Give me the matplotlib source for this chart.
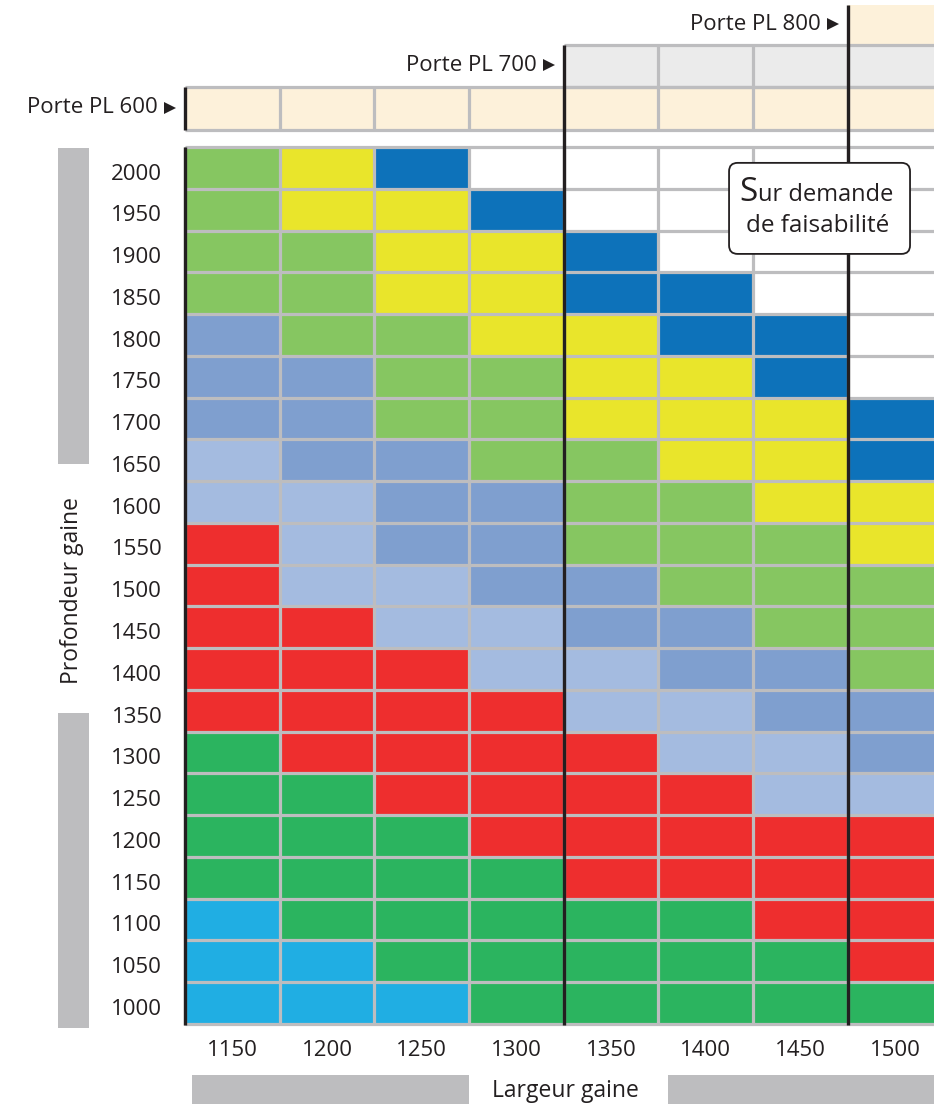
import numpy as np
import matplotlib
matplotlib.use("Agg")
import matplotlib.pyplot as plt
from matplotlib.colors import ListedColormap
from matplotlib.patches import Rectangle, FancyBboxPatch

plt.rcParams["font.family"] = ["Open Sans", "DejaVu Sans"]

# données
largeurs = [1150, 1200, 1250, 1300, 1350, 1400, 1450, 1500]
profondeurs = [2000, 1950, 1900, 1850, 1800, 1750, 1700, 1650, 1600, 1550, 1500,
               1450, 1400, 1350, 1300, 1250, 1200, 1150, 1100, 1050, 1000]
# une lettre par case, ligne du haut (2000) en premier
grille = [
    "GYBWWWWW",
    "GYYBWWWW",
    "GGYYBWWW",
    "GGYYBBWW",
    "MGGYYBBW",
    "MMGGYYBW",
    "MMGGYYYB",
    "LMMGGYYB",
    "LLMMGGYY",
    "RLMMGGGY",
    "RLLMMGGG",
    "RRLLMMGG",
    "RRRLLMMG",
    "RRRRLLMM",
    "DRRRRLLM",
    "DDRRRRLL",
    "DDDRRRRR",
    "DDDDRRRR",
    "CDDDDDRR",
    "CCDDDDDR",
    "CCCDDDDD",
]
codes = ["W", "G", "Y", "B", "M", "L", "R", "D", "C"]
teintes = ["#ffffff", "#86c661", "#e9e52b", "#0d72ba", "#7f9fcf",
           "#a4bbe0", "#ee2e2e", "#2bb45f", "#20aee3"]
portes = ["Porte PL 600", "Porte PL 700", "Porte PL 800"]
portes_debut = [0, 4, 7]
portes_teinte = ["#fdf1da", "#ebebeb", "#fdf1da"]

GRIS = "#bdbdbf"
NOIR = "#231f20"

fig = plt.figure(figsize=(9.34, 11.04), dpi=100)
ax = fig.add_axes([0, 0, 1, 1])
ax.set_xlim(-1.953, 7.909)
ax.set_ylim(-1.916, 24.52)
ax.axis("off")

nc, nr = len(largeurs), len(profondeurs)
idx = np.array([[codes.index(c) for c in ligne] for ligne in grille[::-1]])
ax.pcolormesh(np.arange(nc + 1), np.arange(nr + 1), idx,
              cmap=ListedColormap(teintes), vmin=-0.5, vmax=len(codes) - 0.5)

for i in range(nc + 1):
    ax.vlines(i, -0.03, nr, color=GRIS, lw=2.3, zorder=2)
for j in range(nr + 1):
    ax.hlines(j, 0, nc, color=GRIS, lw=2.3, zorder=2)

# bandeaux des portes
haut_ligne = [(21.41, 22.43), (22.43, 23.44), (23.44, 24.40)]
for k, (nom, d, t) in enumerate(zip(portes, portes_debut, portes_teinte)):
    y0, y1 = haut_ligne[k]
    ax.add_patch(Rectangle((d, y0), nc - d, y1 - y0, facecolor=t, edgecolor="none", zorder=1))
    if k < 2:
        ax.hlines([y0, y1], d, nc, color=GRIS, lw=2.3, zorder=2)
    for i in range(d + 1, nc + 1):
        ax.vlines(i, y0, y1, color=GRIS, lw=2.3, zorder=2)
    ym = (y0 + y1) / 2
    ax.text(d - 0.29, ym + 0.02, nom, ha="right", va="center", fontsize=16, color=NOIR)
    ax.plot(d - 0.16, ym + 0.02, marker=">", ms=8, color=NOIR, mew=0, zorder=4)

# traits noirs
ax.vlines(0, -0.03, nr, color=NOIR, lw=2.4, zorder=3)
ax.vlines(0, 21.41, 22.43, color=NOIR, lw=2.4, zorder=3)
ax.vlines(4, -0.03, 23.44, color=NOIR, lw=2.4, zorder=3)
ax.vlines(7, -0.03, 24.40, color=NOIR, lw=2.4, zorder=3)

# étiquettes
for j, p in enumerate(profondeurs):
    ax.text(-0.24, nr - j - 0.5 - 0.15, str(p), ha="right", va="center",
            fontsize=16, color=NOIR)
for i, l in enumerate(largeurs):
    ax.text(i + 0.5, -0.64, str(l), ha="center", va="center", fontsize=16, color=NOIR)

# barres grises et titres d'axes
ax.add_patch(Rectangle((-1.341, 13.41), 0.327, 7.57, facecolor=GRIS, edgecolor="none"))
ax.add_patch(Rectangle((-1.341, -0.10), 0.327, 7.55, facecolor=GRIS, edgecolor="none"))
ax.add_patch(Rectangle((0.074, -1.92), 2.93, 0.70, facecolor=GRIS, edgecolor="none"))
ax.add_patch(Rectangle((5.10, -1.92), 2.85, 0.70, facecolor=GRIS, edgecolor="none"))
ax.text(-1.19, 10.39, "Profondeur gaine", rotation=90, ha="center", va="center",
        fontsize=16.5, color=NOIR)
ax.text(4.02, -1.6, "Largeur gaine", ha="center", va="center", fontsize=16.5, color=NOIR)

# encadré
ax.add_patch(FancyBboxPatch((5.745, 18.44), 1.911, 2.18,
                            boxstyle="round,pad=0,rounding_size=0.09",
                            mutation_aspect=94.7 / 41.76,
                            facecolor="white", edgecolor=NOIR, lw=1.3, zorder=5))
ax.text(6.05, 19.71, "S", ha="right", va="baseline", fontsize=24, color=NOIR, zorder=6)
ax.text(6.05, 19.71, "ur demande", ha="left", va="baseline", fontsize=17, color=NOIR, zorder=6)
ax.text(6.685, 18.97, "de faisabilité", ha="center", va="baseline", fontsize=17.5,
        color=NOIR, zorder=6)

fig.savefig("out.png", dpi=100)
